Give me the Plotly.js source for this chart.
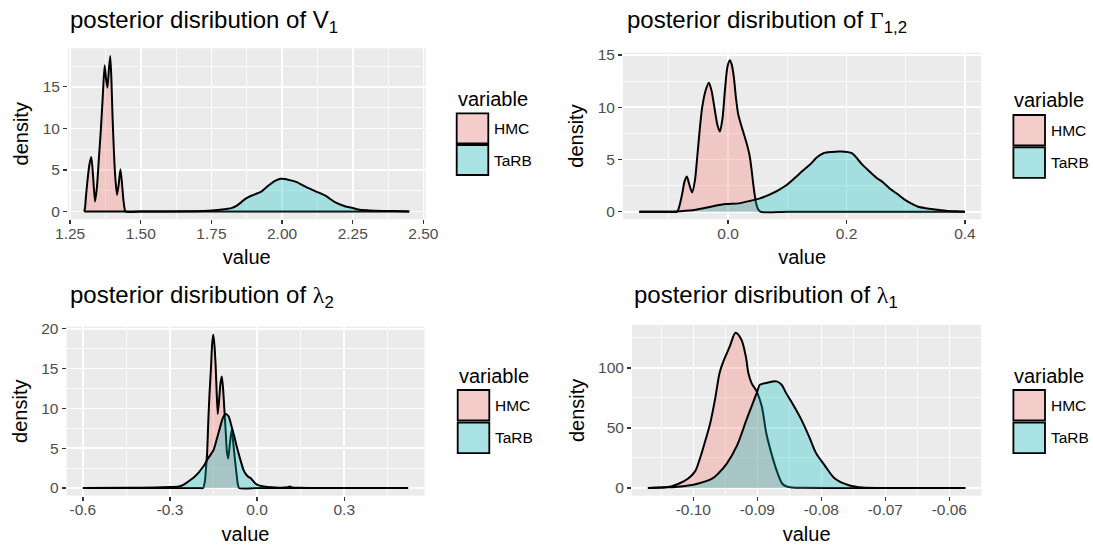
<!DOCTYPE html>
<html><head><meta charset="utf-8">
<script src="https://cdn.plot.ly/plotly-3.0.1.min.js"></script>
<style>html,body{margin:0;padding:0;background:#fff}#chart{width:1093px;height:548px}</style>
</head><body><div id="chart"></div>
<script>
// ---------- data ----------
const seriesNames = ['HMC', 'TaRB'];
const legendTitle = 'variable';
const xTitle = 'value';
const yTitle = 'density';
const panelTitles = [
  'posterior disribution of V<sub>1</sub>',
  'posterior disribution of <span style="font-family:\'Liberation Serif\'">Γ</span><sub>1,2</sub>',
  'posterior disribution of <span style="font-family:\'Liberation Serif\'">λ</span><sub>2</sub>',
  'posterior disribution of <span style="font-family:\'Liberation Serif\'">λ</span><sub>1</sub>'
];

// Panel 1: V1
const v1_hmc_x = [1.300, 1.303, 1.306, 1.311, 1.318, 1.325, 1.331, 1.338, 1.345, 1.352, 1.359, 1.365, 1.372, 1.377, 1.382, 1.387, 1.392, 1.396, 1.400, 1.405, 1.410, 1.416, 1.422, 1.428, 1.433, 1.438, 1.442, 1.446, 1.50, 1.75, 2.00, 2.25, 2.45];
const v1_hmc_y = [0, 0.5, 1.8, 3.6, 5.6, 6.55, 4.4, 1.2, 3.0, 6.5, 10.0, 13.5, 17.6, 16.0, 14.9, 17.0, 18.7, 16.0, 11.5, 7.2, 4.0, 2.0, 3.3, 5.1, 3.6, 1.6, 0.5, 0, 0, 0, 0, 0, 0];
const v1_tarb_x = [1.30, 1.50, 1.70, 1.74, 1.78, 1.823, 1.840, 1.855, 1.870, 1.893, 1.923, 1.952, 1.975, 1.995, 2.011, 2.030, 2.052, 2.081, 2.117, 2.152, 2.187, 2.222, 2.250, 2.270, 2.300, 2.330, 2.376, 2.42, 2.45];
const v1_tarb_y = [0, 0, 0.02, 0.08, 0.2, 0.44, 0.72, 1.1, 1.53, 1.93, 2.33, 3.14, 3.7, 3.94, 3.9, 3.75, 3.54, 3.02, 2.45, 1.93, 1.13, 0.64, 0.42, 0.24, 0.14, 0.1, 0.06, 0.04, 0];

// Panel 2: Gamma_{1,2}
const g12_hmc_x = [-0.150, -0.100, -0.086, -0.082, -0.0776, -0.0735, -0.0697, -0.0655, -0.0607, -0.056, -0.0522, -0.048, -0.0438, -0.038, -0.0325, -0.028, -0.024, -0.018, -0.0139, -0.0095, -0.0054, -0.001, 0.003, 0.0065, 0.0098, 0.0135, 0.0171, 0.022, 0.0267, 0.0315, 0.0364, 0.0395, 0.0425, 0.0455, 0.0476, 0.051, 0.055, 0.10, 0.20, 0.30, 0.40];
const g12_hmc_y = [0, 0, 0, 0.6, 1.69, 2.9, 3.37, 2.6, 1.85, 3.0, 5.19, 7.8, 9.96, 11.6, 12.35, 11.6, 10.29, 8.3, 7.67, 8.9, 11.56, 13.9, 14.49, 14.0, 12.83, 10.8, 9.33, 8.3, 7.42, 6.5, 5.35, 4.1, 2.64, 1.4, 0.73, 0.2, 0, 0, 0, 0, 0];
const g12_tarb_x = [-0.150, -0.100, -0.080, -0.055, -0.027, -0.004, 0.018, 0.038, 0.055, 0.069, 0.083, 0.097, 0.112, 0.126, 0.140, 0.1496, 0.161, 0.175, 0.19, 0.209, 0.226, 0.238, 0.25, 0.262, 0.274, 0.286, 0.297, 0.309, 0.321, 0.333, 0.345, 0.368, 0.385, 0.40];
const g12_tarb_y = [0, 0, 0.05, 0.19, 0.51, 0.73, 0.8, 1.05, 1.3, 1.62, 2.0, 2.48, 3.2, 3.92, 4.6, 5.19, 5.6, 5.72, 5.76, 5.6, 4.55, 3.9, 3.28, 2.8, 2.17, 1.7, 1.21, 0.8, 0.48, 0.34, 0.25, 0.1, 0.04, 0];

// Panel 3: lambda_2
const l2_hmc_x = [-0.600, -0.300, -0.200, -0.186, -0.180, -0.176, -0.172, -0.168, -0.164, -0.159, -0.155, -0.151, -0.147, -0.143, -0.139, -0.1355, -0.131, -0.126, -0.1215, -0.117, -0.113, -0.108, -0.104, -0.0995, -0.094, -0.088, -0.083, -0.077, -0.071, -0.066, -0.062, 0.0, 0.3, 0.52];
const l2_hmc_y = [0, 0, 0, 0, 0.8, 2.5, 4.5, 8.5, 11.8, 15.0, 18.0, 19.3, 18.0, 15.5, 11.8, 9.3, 11.0, 13.2, 14.0, 12.4, 10.0, 7.0, 4.6, 3.7, 5.5, 7.3, 6.0, 3.8, 1.8, 0.4, 0, 0, 0, 0];
const l2_tarb_x = [-0.600, -0.450, -0.350, -0.300, -0.270, -0.257, -0.2447, -0.230, -0.2145, -0.200, -0.190, -0.180, -0.173, -0.160, -0.150, -0.140, -0.1275, -0.118, -0.108, -0.098, -0.0874, -0.078, -0.070, -0.058, -0.047, -0.040, -0.030, -0.0217, -0.012, -0.0037, 0.0085, 0.03, 0.06, 0.09, 0.105, 0.112, 0.12, 0.15, 0.2, 0.3, 0.52];
const l2_tarb_y = [0, 0.02, 0.06, 0.12, 0.2, 0.35, 0.62, 1.0, 1.45, 2.0, 2.48, 3.0, 3.5, 4.2, 4.76, 6.0, 7.65, 8.8, 9.3, 9.0, 7.65, 6.4, 5.17, 3.6, 2.27, 1.8, 1.4, 1.24, 0.8, 0.5, 0.3, 0.15, 0.08, 0.05, 0.1, 0.2, 0.08, 0.03, 0.01, 0, 0];

// Panel 4: lambda_1
const l1_hmc_x = [-0.1071, -0.105, -0.1035, -0.1022, -0.1008, -0.0997, -0.0990, -0.0982, -0.0974, -0.0966, -0.0959, -0.0953, -0.0943, -0.0934, -0.0925, -0.0918, -0.0914, -0.0909, -0.0901, -0.0893, -0.0886, -0.0878, -0.0870, -0.0861, -0.0854, -0.0845, -0.083, -0.075, -0.065, -0.0575];
const l1_hmc_y = [0, 0.3, 1.2, 3.7, 7.9, 14, 24, 38, 53, 74, 95.8, 105.5, 118, 129.3, 123.7, 109.7, 95.8, 87.4, 80.4, 67.8, 45.5, 28.8, 14.8, 3.5, 1.2, 0.4, 0.1, 0, 0, 0];
const l1_tarb_x = [-0.1071, -0.104, -0.1015, -0.0992, -0.097, -0.0961, -0.0948, -0.0932, -0.0917, -0.0907, -0.0900, -0.0896, -0.0886, -0.0870, -0.0862, -0.0855, -0.0844, -0.0831, -0.0818, -0.0808, -0.0795, -0.0779, -0.0757, -0.0735, -0.070, -0.065, -0.0575];
const l1_tarb_y = [0, 0.5, 1.5, 3.7, 7.9, 12, 20, 35, 56.7, 70.7, 80.4, 86, 87.4, 88.8, 86, 79, 69.3, 56.7, 41.4, 28.8, 19, 7.9, 2.3, 0.3, 0, 0, 0];

// tick labels
const p1_xticks = [1.25, 1.50, 1.75, 2.00, 2.25, 2.50];
const p1_xlabels = ['1.25', '1.50', '1.75', '2.00', '2.25', '2.50'];
const p1_xminor = [1.375, 1.625, 1.875, 2.125, 2.375];
const p1_yticks = [0, 5, 10, 15];
const p1_ylabels = ['0', '5', '10', '15'];
const p1_yminor = [2.5, 7.5, 12.5, 17.5];

const p2_xticks = [0.0, 0.2, 0.4];
const p2_xlabels = ['0.0', '0.2', '0.4'];
const p2_xminor = [-0.1, 0.1, 0.3];
const p2_yticks = [0, 5, 10, 15];
const p2_ylabels = ['0', '5', '10', '15'];
const p2_yminor = [2.5, 7.5, 12.5];

const p3_xticks = [-0.6, -0.3, 0.0, 0.3];
const p3_xlabels = ['-0.6', '-0.3', '0.0', '0.3'];
const p3_xminor = [-0.45, -0.15, 0.15, 0.45];
const p3_yticks = [0, 5, 10, 15, 20];
const p3_ylabels = ['0', '5', '10', '15', '20'];
const p3_yminor = [2.5, 7.5, 12.5, 17.5];

const p4_xticks = [-0.10, -0.09, -0.08, -0.07, -0.06];
const p4_xlabels = ['-0.10', '-0.09', '-0.08', '-0.07', '-0.06'];
const p4_xminor = [-0.105, -0.095, -0.085, -0.075, -0.065];
const p4_yticks = [0, 50, 100];
const p4_ylabels = ['0', '50', '100'];
const p4_yminor = [25, 75, 125];

// ---------- styling / layout ----------
const W = 1093, H = 548;
const FONT = 'Liberation Sans, Arial, sans-serif';
const FILLS = ['rgba(248,118,109,0.3)', 'rgba(0,191,196,0.3)'];
const KEYFILLS = ['#F4CDCA', '#A9E3E4'];

function dom(l, r) { return [l / W, r / W]; }
function domY(t, b) { return [1 - b / H, 1 - t / H]; }
function expand(xs) {
  let lo = Math.min(...xs), hi = Math.max(...xs), d = (hi - lo) * 0.05;
  return [lo - d, hi + d];
}
function expandY(ys) {
  let lo = 0, hi = Math.max(...ys), d = (hi - lo) * 0.05;
  return [lo - d, hi + d];
}

const panels = [
  {hx: v1_hmc_x, hy: v1_hmc_y, tx: v1_tarb_x, ty: v1_tarb_y, xt: p1_xticks, xl: p1_xlabels, xm: p1_xminor, yt: p1_yticks, yl: p1_ylabels, ym: p1_yminor,
   box: [68, 425.5, 48.3, 219.3], sm: 0.55, title: [68.3, 21.8], leg: [456.7, 99.1, 113.3, 145.0, 30.0]},
  {hx: g12_hmc_x, hy: g12_hmc_y, tx: g12_tarb_x, ty: g12_tarb_y, xt: p2_xticks, xl: p2_xlabels, xm: p2_xminor, yt: p2_yticks, yl: p2_ylabels, ym: p2_yminor,
   box: [623, 981.2, 52.7, 219.3], sm: 0.75, title: [624.7, 21.2], leg: [1013.4, 100.4, 115.0, 147.3, 30.5]},
  {hx: l2_hmc_x, hy: l2_hmc_y, tx: l2_tarb_x, ty: l2_tarb_y, xt: p3_xticks, xl: p3_xlabels, xm: p3_xminor, yt: p3_yticks, yl: p3_ylabels, ym: p3_yminor,
   box: [66.6, 424.4, 326.7, 495.7], sm: 0.55, title: [68.4, 296.8], leg: [457.7, 376.4, 390.0, 422.7, 30.5]},
  {hx: l1_hmc_x, hy: l1_hmc_y, tx: l1_tarb_x, ty: l1_tarb_y, xt: p4_xticks, xl: p4_xlabels, xm: p4_xminor, yt: p4_yticks, yl: p4_ylabels, ym: p4_yminor,
   box: [632, 981.2, 325, 495.7], sm: 0.85, title: [632.4, 296.5], leg: [1013.4, 376.4, 390.0, 422.7, 30.5]}
];

const traces = [];
const layout = {
  width: W, height: H,
  margin: {l: 0, r: 0, t: 0, b: 0, pad: 0},
  paper_bgcolor: '#FFFFFF', plot_bgcolor: '#EBEBEB',
  showlegend: false,
  font: {family: FONT, color: '#000000'},
  annotations: [], shapes: []
};

panels.forEach((p, i) => {
  const n = i === 0 ? '' : String(i + 1);
  const xa = 'x' + n, ya = 'y' + n;
  [[p.hx, p.hy], [p.tx, p.ty]].forEach((s, k) => {
    traces.push({
      type: 'scatter', mode: 'lines', x: s[0], y: s[1], xaxis: xa, yaxis: ya,
      name: seriesNames[k], fill: 'tozeroy', fillcolor: FILLS[k],
      line: {color: '#000000', width: 2, shape: 'spline', smoothing: p.sm},
      hoverinfo: 'skip'
    });
  });
  const allx = p.hx.concat(p.tx), ally = p.hy.concat(p.ty);
  const common = {
    tickmode: 'array', ticks: 'outside', ticklen: 4, tickwidth: 1.3, tickcolor: '#333333',
    tickfont: {family: FONT, size: 15.5, color: '#4D4D4D'},
    showgrid: true, gridcolor: '#FFFFFF', gridwidth: 1.6, zeroline: false, showline: false,
    fixedrange: true
  };
  layout['xaxis' + n] = Object.assign({}, common, {
    domain: dom(p.box[0], p.box[1]), anchor: ya, range: expand(allx),
    tickvals: p.xt, ticktext: p.xl, ticklabelstandoff: -4,
    minor: {tickmode: 'array', tickvals: p.xm, showgrid: true, gridcolor: '#FFFFFF', gridwidth: 0.8, ticks: ''},
    title: {text: xTitle, font: {family: FONT, size: 20, color: '#000000'}, standoff: 9}
  });
  layout['yaxis' + n] = Object.assign({}, common, {
    domain: domY(p.box[2], p.box[3]), anchor: xa, range: expandY(ally),
    tickvals: p.yt, ticktext: p.yl,
    minor: {tickmode: 'array', tickvals: p.ym, showgrid: true, gridcolor: '#FFFFFF', gridwidth: 0.8, ticks: ''},
    title: {text: yTitle, font: {family: FONT, size: 20, color: '#000000'}, standoff: 8}
  });
  // panel title
  layout.annotations.push({
    xref: 'paper', yref: 'paper', x: p.title[0] / W, y: 1 - p.title[1] / H,
    xanchor: 'left', yanchor: 'middle', showarrow: false, text: panelTitles[i],
    font: {family: FONT, size: 24, color: '#000000'}
  });
  // legend
  const [lx, tcy, b1, b2, bh] = p.leg;
  const bw = 31.6;
  layout.annotations.push({
    xref: 'paper', yref: 'paper', x: (lx - 1) / W, y: 1 - tcy / H, xanchor: 'left', yanchor: 'middle',
    showarrow: false, text: legendTitle, font: {family: FONT, size: 20, color: '#000000'}
  });
  [b1, b2].forEach((bt, k) => {
    layout.shapes.push({
      type: 'rect', xref: 'paper', yref: 'paper',
      x0: lx / W, x1: (lx + bw) / W, y0: 1 - (bt + bh) / H, y1: 1 - bt / H,
      fillcolor: KEYFILLS[k], line: {color: '#000000', width: 1.8}, layer: 'above'
    });
    layout.annotations.push({
      xref: 'paper', yref: 'paper', x: (lx + bw + 3.5) / W, y: 1 - (bt + bh / 2) / H,
      xanchor: 'left', yanchor: 'middle', showarrow: false, text: seriesNames[k],
      font: {family: FONT, size: 15.5, color: '#000000'}
    });
  });
});

Plotly.newPlot('chart', traces, layout, {staticPlot: true, displayModeBar: false});
</script>
</body></html>
